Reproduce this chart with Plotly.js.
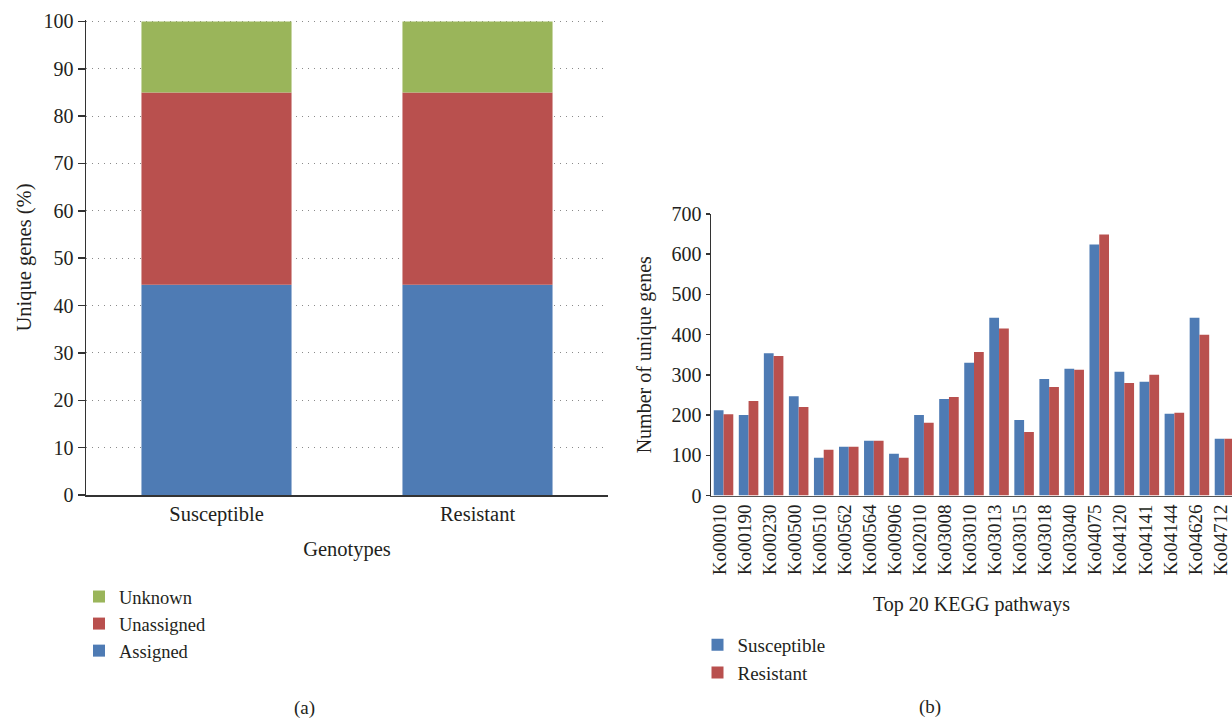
<!DOCTYPE html>
<html>
<head>
<meta charset="utf-8">
<script src="https://cdn.plot.ly/plotly-3.0.1.min.js"></script>
<style>
  html, body { margin: 0; padding: 0; background: #fff; overflow: hidden; }
  #chart { width: 1232px; height: 719px; }
</style>
</head>
<body>
<div id="chart"></div>
<script>
// ---- Panel (a) data ----
const genotypes = ['Susceptible', 'Resistant'];
const assigned = [44.4, 44.4];
const unassigned = [40.6, 40.6];
const unknown = [15.0, 15.0];

// ---- Panel (b) data ----
const pathways = ['Ko00010', 'Ko00190', 'Ko00230', 'Ko00500', 'Ko00510', 'Ko00562', 'Ko00564',
  'Ko00906', 'Ko02010', 'Ko03008', 'Ko03010', 'Ko03013', 'Ko03015', 'Ko03018', 'Ko03040',
  'Ko04075', 'Ko04120', 'Ko04141', 'Ko04144', 'Ko04626', 'Ko04712'];
const susceptibleCounts = [212, 200, 354, 247, 94, 121, 136, 104, 200, 240, 330, 442, 188, 290, 315, 624, 308, 283, 203, 442, 141];
const resistantCounts   = [202, 235, 347, 220, 114, 121, 136, 94, 181, 245, 357, 415, 158, 270, 313, 649, 280, 300, 206, 400, 141];

const yTicksA = [0, 10, 20, 30, 40, 50, 60, 70, 80, 90, 100];
const yTicksB = [0, 100, 200, 300, 400, 500, 600, 700];

const BLUE = '#4E7BB4', RED = '#B9504E', GREEN = '#9AB55A';
const FONT = 'Liberation Serif, Times New Roman, DejaVu Serif, serif';
const TXT = '#231F20';
const W = 1232, H = 719;
const px = v => v / W;
const py = v => 1 - v / H;

const baseUnassigned = assigned.slice();
const baseUnknown = assigned.map((v, i) => v + unassigned[i]);

const BWA = 0.575;
const BWB = 0.39;

const traces = [
  { type: 'bar', name: 'Assigned', x: genotypes, y: assigned, base: [0, 0],
    width: BWA, offset: -BWA / 2, marker: { color: BLUE }, xaxis: 'x', yaxis: 'y', legend: 'legend' },
  { type: 'bar', name: 'Unassigned', x: genotypes, y: unassigned, base: baseUnassigned,
    width: BWA, offset: -BWA / 2, marker: { color: RED }, xaxis: 'x', yaxis: 'y', legend: 'legend' },
  { type: 'bar', name: 'Unknown', x: genotypes, y: unknown, base: baseUnknown,
    width: BWA, offset: -BWA / 2, marker: { color: GREEN }, xaxis: 'x', yaxis: 'y', legend: 'legend' },
  { type: 'bar', name: 'Susceptible', x: pathways, y: susceptibleCounts,
    width: BWB, offset: -BWB, marker: { color: BLUE }, xaxis: 'x2', yaxis: 'y2', legend: 'legend2' },
  { type: 'bar', name: 'Resistant', x: pathways, y: resistantCounts,
    width: BWB, offset: 0, marker: { color: RED }, xaxis: 'x2', yaxis: 'y2', legend: 'legend2' }
];

const layout = {
  width: W, height: H,
  margin: { l: 0, r: 0, t: 0, b: 0, pad: 0 },
  paper_bgcolor: '#fff', plot_bgcolor: 'rgba(0,0,0,0)',
  font: { family: FONT, color: TXT, size: 20 },
  barmode: 'group',
  showlegend: true,
  xaxis: {
    domain: [px(86), px(608)], anchor: 'y',
    range: [-0.5, 1.5], type: 'category',
    showline: true, linecolor: '#333', linewidth: 1.5,
    ticks: '', showgrid: false, zeroline: false,
    tickfont: { family: FONT, size: 20.5, color: TXT },
    title: { text: 'Genotypes', font: { family: FONT, size: 20.5, color: TXT }, standoff: 16 }
  },
  yaxis: {
    domain: [py(495), py(20)], anchor: 'x',
    range: [0, 100.3], tickvals: yTicksA, ticktext: yTicksA.map(String),
    showline: true, linecolor: '#333', linewidth: 1.5,
    ticks: 'outside', ticklen: 7, tickcolor: '#333', tickwidth: 1.5,
    showgrid: true, gridcolor: '#8a8a8a', gridwidth: 1, griddash: '1px,5px',
    zeroline: false,
    tickfont: { family: FONT, size: 20, color: TXT },
    title: { text: 'Unique genes (%)', font: { family: FONT, size: 20.5, color: TXT }, standoff: 6 }
  },
  xaxis2: {
    domain: [px(711), 1], anchor: 'y2',
    range: [-0.5, 20.3], type: 'category',
    showline: true, linecolor: '#555', linewidth: 1.5,
    ticks: '', showgrid: false, zeroline: false,
    tickangle: -90, ticklabelshift: -4,
    tickfont: { family: FONT, size: 19, color: TXT },
    title: { text: 'Top 20 KEGG pathways', font: { family: FONT, size: 20, color: TXT }, standoff: 22 }
  },
  yaxis2: {
    domain: [py(495.5), py(214)], anchor: 'x2',
    range: [0, 700], tickvals: yTicksB, ticktext: yTicksB.map(String),
    showline: true, linecolor: '#333', linewidth: 1.5,
    ticks: 'outside', ticklen: 4, tickcolor: '#333', tickwidth: 1.5,
    showgrid: false, zeroline: false,
    tickfont: { family: FONT, size: 20, color: TXT },
    title: { text: 'Number of unique genes', font: { family: FONT, size: 20, color: TXT }, standoff: 14 }
  },
  legend: {
    x: px(79), y: py(578), xanchor: 'left', yanchor: 'top',
    traceorder: 'reversed', orientation: 'v',
    bgcolor: 'rgba(0,0,0,0)', borderwidth: 0,
    font: { family: FONT, size: 18.5, color: TXT }
  },
  legend2: {
    x: px(697.5), y: py(626), xanchor: 'left', yanchor: 'top',
    traceorder: 'normal', orientation: 'v',
    bgcolor: 'rgba(0,0,0,0)', borderwidth: 0,
    font: { family: FONT, size: 19, color: TXT }
  },
  annotations: [
    { text: '(a)', xref: 'paper', yref: 'paper', x: px(304), y: py(708), xanchor: 'center', yanchor: 'middle',
      showarrow: false, font: { family: FONT, size: 19, color: TXT } },
    { text: '(b)', xref: 'paper', yref: 'paper', x: px(930), y: py(707), xanchor: 'center', yanchor: 'middle',
      showarrow: false, font: { family: FONT, size: 19, color: TXT } }
  ]
};

Plotly.newPlot('chart', traces, layout, { displayModeBar: false, staticPlot: true });
</script>
</body>
</html>
